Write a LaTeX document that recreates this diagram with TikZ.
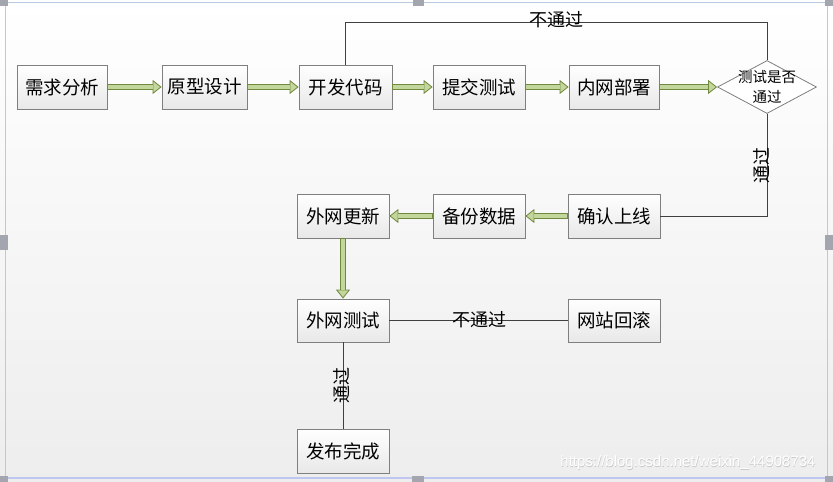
\documentclass[tikz,border=0pt]{standalone}
\usepackage{fontspec}
\newfontfamily\cjk{Noto Sans CJK SC}
\newfontfamily\wmfont{Liberation Sans}
\usetikzlibrary{arrows.meta,shapes.geometric,shadows,calc}
\definecolor{gdark}{HTML}{71893F}
\definecolor{glight}{HTML}{C3D69B}
\definecolor{boxline}{HTML}{7F7F7F}
\definecolor{lineg}{HTML}{404040}
\definecolor{frameb}{HTML}{B9C9DF}
\definecolor{handle}{HTML}{A3A6AE}
\tikzset{
  box/.style={draw=boxline, line width=0.8pt, top color=white, bottom color=black!9,
    minimum height=44pt, minimum width=92pt, inner sep=0pt,
    font=\cjk\fontsize{18.5}{18.5}\selectfont,
    drop shadow={shadow xshift=1.2pt, shadow yshift=-1.2pt, fill=black!35, opacity=0.6}},
  dia/.style={draw=boxline, line width=0.8pt, fill=white, diamond, aspect=1.87,
    minimum width=99pt, minimum height=53pt, inner xsep=-14pt, inner ysep=-14pt, align=center,
    font=\cjk\fontsize{14.5}{20}\selectfont},
  garrow/.style={draw=gdark, line width=6.4pt,
    -{Triangle[length=9pt,width=14pt,fill=glight,color=gdark,line width=0.8pt]},
    postaction={draw=glight, line width=4.6pt, -, shorten >=9pt, shorten <=0.4pt}},
  conn/.style={draw=lineg, line width=0.8pt},
  lbl/.style={font=\cjk\fontsize{18}{18}\selectfont, inner sep=0pt},
  hnd/.style={fill=handle, draw=none}
}
\begin{document}
\begin{tikzpicture}[x=1pt,y=-1pt]
\useasboundingbox (0,0) rectangle (833,482);
% background
\shade[top color=white, bottom color=black!7] (0,0) rectangle (833,482);
\draw[frameb, line width=1.2pt] (5,2.5) -- (828,2.5);
\draw[frameb, line width=1.2pt] (5.5,2) -- (5.5,479);
\draw[frameb, line width=1.2pt] (827.5,2) -- (827.5,479);
\draw[frameb!80!blue!60!white, line width=1.6pt] (5,478) -- (828,478);
% handles
\fill[hnd] (0,0) rectangle (8,6);
\fill[hnd] (413,0) rectangle (424,6);
\fill[hnd] (825,0) rectangle (833,6);
\fill[hnd] (0,235) rectangle (8,250);
\fill[hnd] (825,235) rectangle (833,250);
\fill[hnd] (0,476) rectangle (8,482);
\fill[hnd] (412,476) rectangle (424,482);
\fill[hnd] (825,476) rectangle (833,482);

% row 1
\node[box, minimum width=90pt] (req) at (62,87) {需求分析};
\node[box, minimum width=85pt] (proto) at (204.5,87) {原型设计};
\node[box, minimum width=93pt] (dev) at (345.5,87) {开发代码};
\node[box] (submit) at (479,87) {提交测试};
\node[box, minimum width=90pt] (intra) at (614,87) {内网部署};
\node[dia] (check) at (767,87) {测试是否\\通过};
% row 2
\node[box] (confirm) at (614,216) {确认上线};
\node[box] (backup) at (479,216) {备份数据};
\node[box] (update) at (343,216) {外网更新};
% lower
\node[box, minimum height=43pt] (extest) at (343,320.5) {外网测试};
\node[box, minimum height=43pt] (rollback) at (614,320.5) {网站回滚};
\node[box] (done) at (343,451) {发布完成};

% green arrows
\draw[garrow] (req.east) -- (proto.west);
\draw[garrow] (proto.east) -- (dev.west);
\draw[garrow] (dev.east) -- (submit.west);
\draw[garrow] (submit.east) -- (intra.west);
\draw[garrow] (intra.east) -- (check.west);
\draw[garrow] (confirm.west) -- (backup.east);
\draw[garrow] (backup.west) -- (update.east);
\draw[garrow] (update.south) -- (extest.north);

% plain connectors
\coordinate (loopL) at (345.5,22);
\draw[conn] (dev.north) -- (loopL) -| (check.north);
\node[lbl] (nopass1) at (556,19.5) {不通过};
\draw[conn] (check.south) |- (confirm.east);
\node[lbl, rotate=90] (pass1) at (762,165) {通过};
\draw[conn] (extest.east) -- (rollback.west);
\node[lbl] (nopass2) at (479,320) {不通过};
\draw[conn] (extest.south) -- (done.north);
\node[lbl, rotate=90] (pass2) at (342,385) {通过};

% watermark
\node[font=\wmfont\fontsize{15}{15}\selectfont, text=black!22, inner sep=0pt] (wm0) at (688.4,463.6) {https://blog.csdn.net/weixin\_44908734};
\node[font=\wmfont\fontsize{15}{15}\selectfont, text=white, inner sep=0pt] (wm) at (688,463) {https://blog.csdn.net/weixin\_44908734};
\end{tikzpicture}
\end{document}
